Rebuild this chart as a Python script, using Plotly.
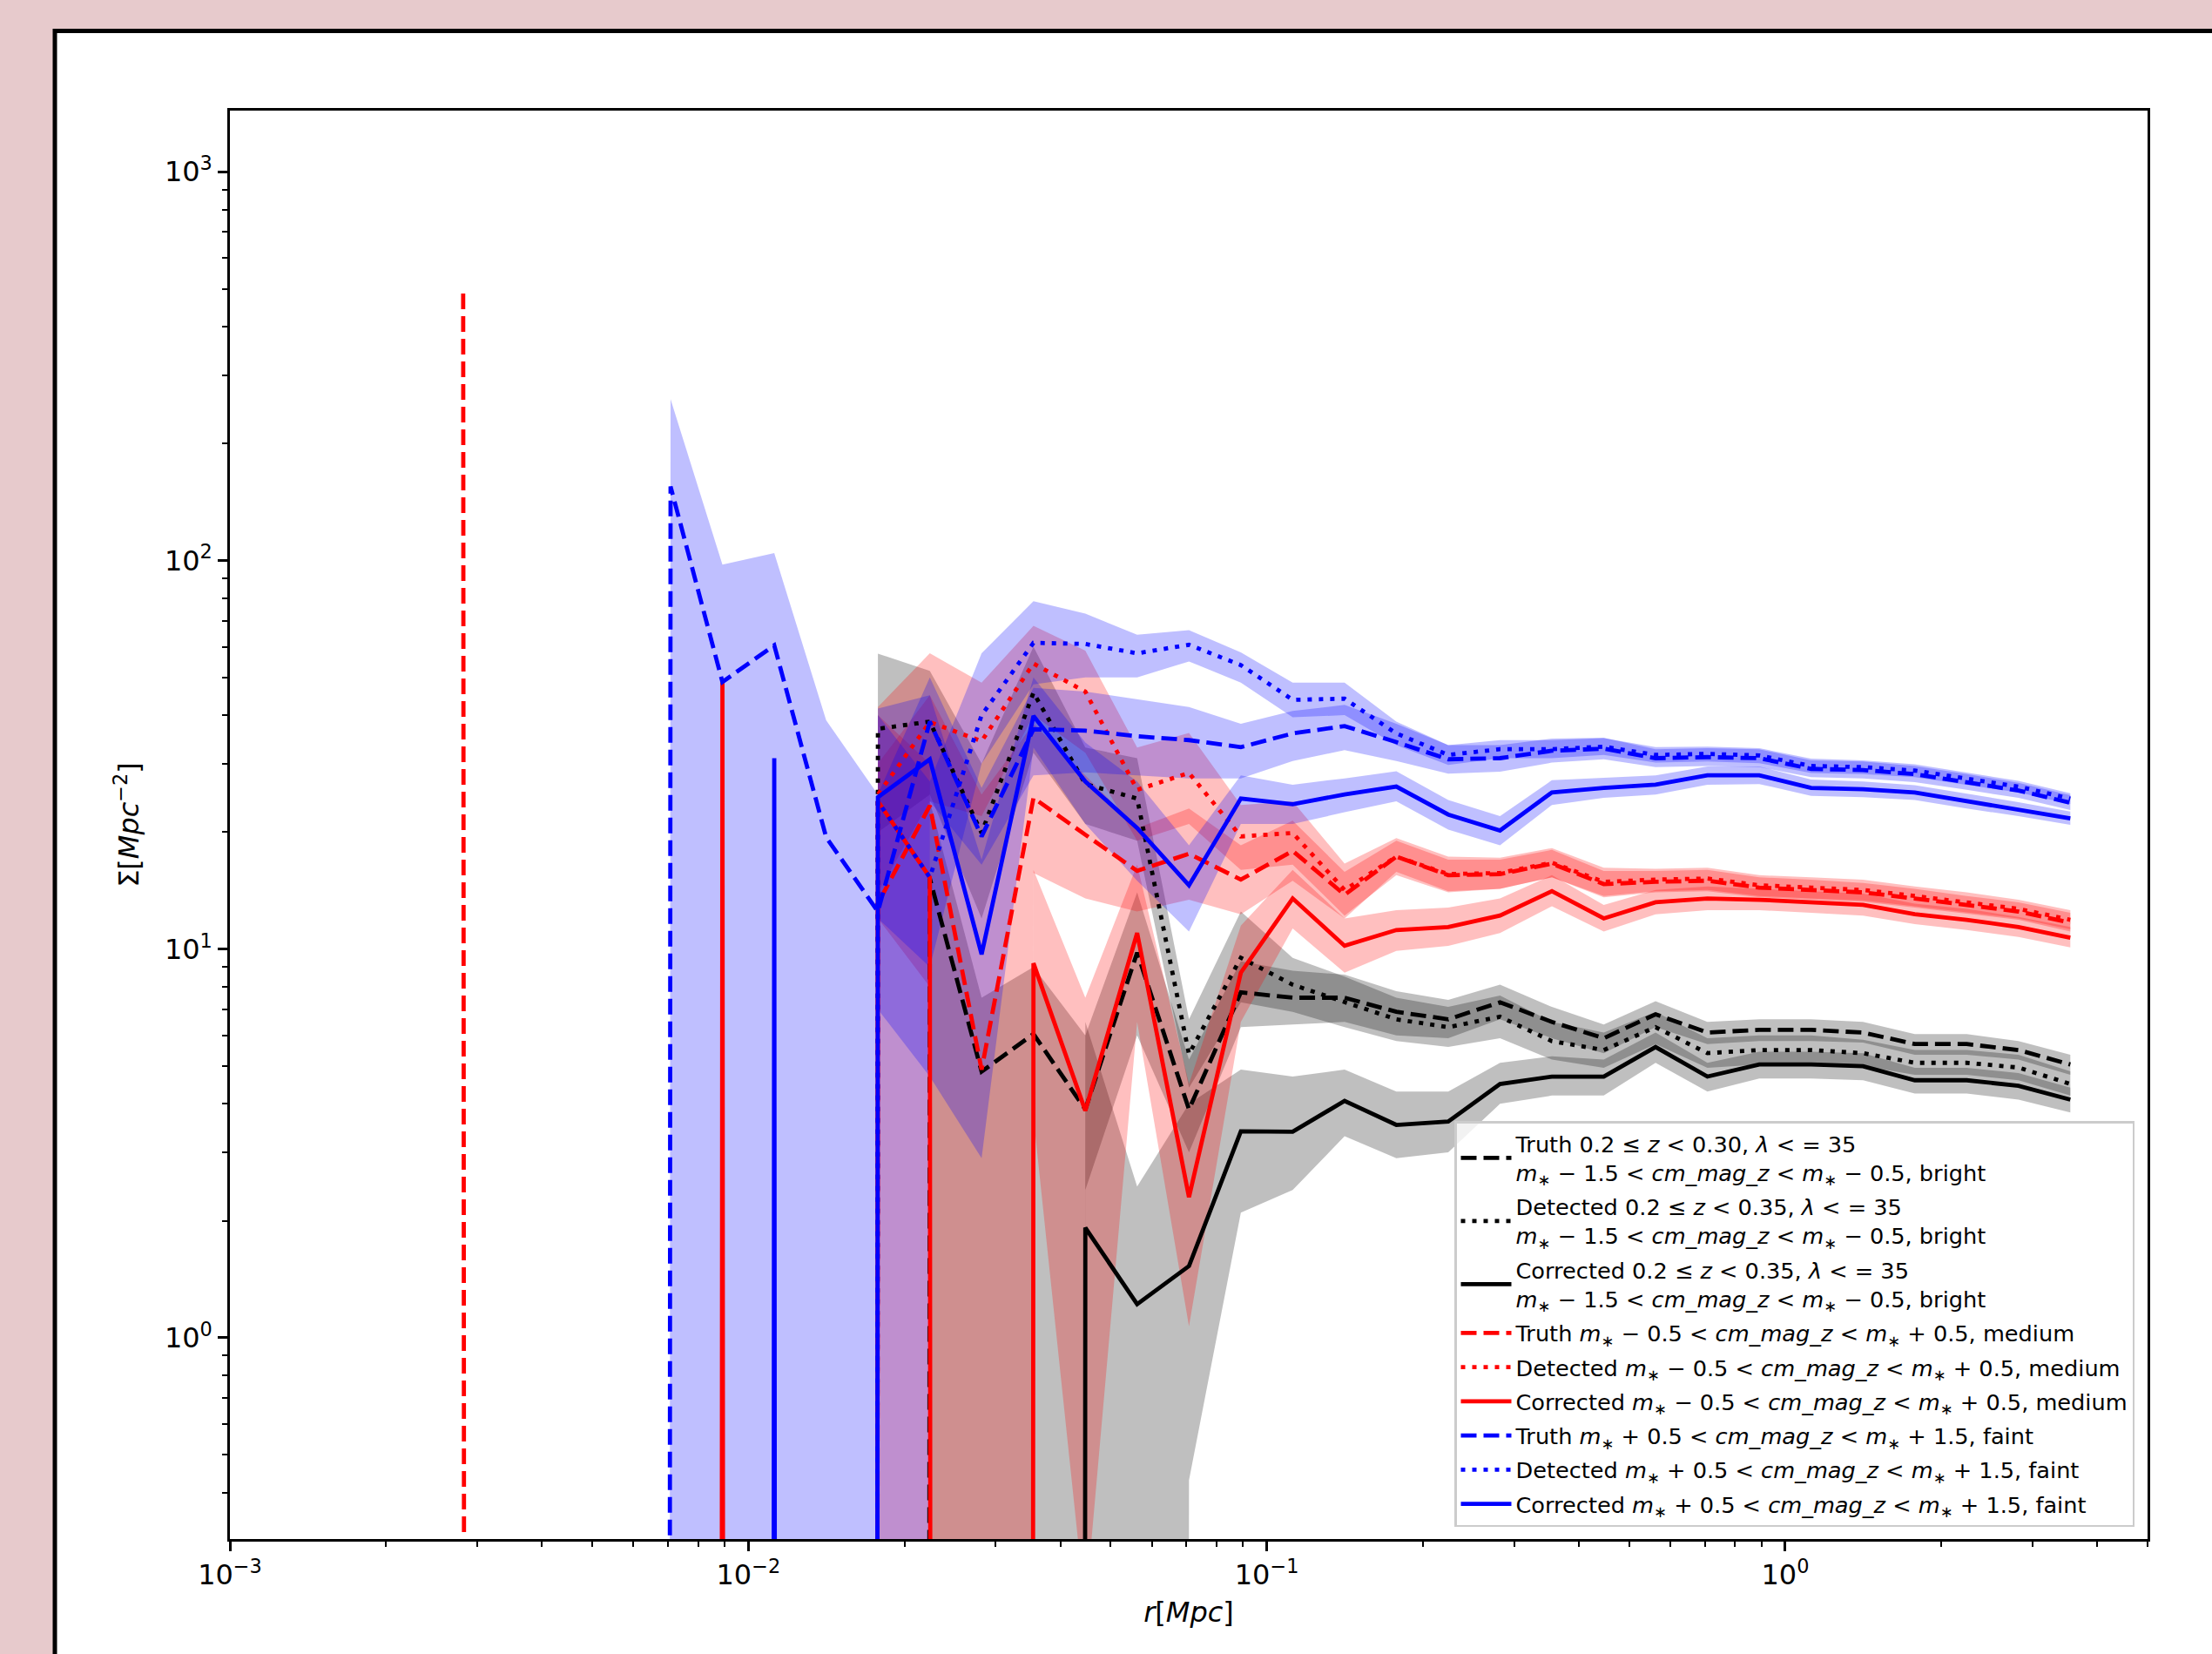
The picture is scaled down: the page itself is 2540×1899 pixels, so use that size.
import plotly.graph_objects as go
import math

# ---------------- data ----------------
# radial bin centres r [Mpc]
r = [0.002818, 0.003548, 0.004467, 0.005623, 0.007079, 0.008913, 0.01122, 0.01413,
     0.01778, 0.02239, 0.02818, 0.03548, 0.04467, 0.05623, 0.07079, 0.08913,
     0.1122, 0.1413, 0.1778, 0.2239, 0.2818, 0.3548, 0.4467, 0.5623,
     0.7079, 0.8913, 1.122, 1.413, 1.778, 2.239, 2.818, 3.548]

# bright: Truth (dashed), Detected (dotted), Corrected (solid)
truth_bright = [0, 0, 0, 0, 0, 0, 0, 0, 0, 15.2, 4.84, 6.05, 3.87, 9.8, 3.87, 7.74,
                7.5, 7.5, 6.9, 6.6, 7.3, 6.5, 5.9, 6.8, 6.1, 6.2, 6.2, 6.1, 5.7, 5.7, 5.5, 5.05]
truth_bright_lo = [0, 0, 0, 0, 0, 0, 0, 0, 0, 0, 0, 0, 2.4, 6.0, 3.0, 6.3,
                   6.4, 6.5, 6.0, 5.9, 6.6, 5.9, 5.4, 6.3, 5.7, 5.8, 5.8, 5.75, 5.35, 5.35, 5.2, 4.75]
truth_bright_hi = [0, 0, 0, 0, 0, 0, 0, 0, 0, 24, 7.5, 9.0, 6.0, 14, 5.2, 9.3,
                   8.8, 8.6, 7.8, 7.4, 8.1, 7.1, 6.4, 7.35, 6.5, 6.6, 6.6, 6.5, 6.05, 6.05, 5.8, 5.35]

detected_bright = [0, 0, 0, 0, 0, 0, 0, 0, 36.9, 38.5, 19.9, 45.7, 26.6, 24.4, 5.37, 9.5,
                   8.1, 7.3, 6.6, 6.3, 6.7, 5.8, 5.5, 6.3, 5.4, 5.5, 5.5, 5.4, 5.1, 5.1, 4.96, 4.5]
detected_bright_lo = [0, 0, 0, 0, 0, 0, 0, 0, 20, 25, 12, 32, 21, 19, 4.4, 7.3,
                      6.9, 6.3, 5.8, 5.6, 5.9, 5.2, 4.95, 5.7, 4.95, 5.05, 5.05, 5.0, 4.75, 4.75, 4.6, 4.2]
detected_bright_hi = [0, 0, 0, 0, 0, 0, 0, 0, 57.6, 52, 30, 60, 33, 31, 6.6, 12.5,
                      9.5, 8.5, 7.5, 7.1, 7.6, 6.5, 6.1, 6.9, 5.9, 6.0, 6.0, 5.85, 5.5, 5.5, 5.35, 4.85]

corrected_bright = [0, 0, 0, 0, 0, 0, 0, 0, 0, 0, 0, 0, 1.92, 1.22, 1.53, 3.40,
                    3.39, 4.07, 3.53, 3.6, 4.5, 4.7, 4.7, 5.6, 4.7, 5.05, 5.05, 5.0, 4.6, 4.6, 4.45, 4.1]
corrected_bright_lo = [0, 0, 0, 0, 0, 0, 0, 0, 0, 0, 0, 0, 0, 0, 0.43, 2.1,
                       2.4, 3.3, 2.9, 3.0, 4.0, 4.2, 4.2, 5.1, 4.3, 4.65, 4.65, 4.6, 4.25, 4.25, 4.1, 3.8]
corrected_bright_hi = [0, 0, 0, 0, 0, 0, 0, 0, 0, 0, 0, 0, 6.5, 2.45, 4.0, 4.9,
                       4.7, 4.9, 4.3, 4.3, 5.1, 5.3, 5.2, 6.1, 5.1, 5.45, 5.45, 5.4, 4.95, 4.95, 4.8, 4.4]

# medium
truth_medium = [486, 0, 0, 0, 0, 0, 0, 0, 13.1, 23.4, 4.9, 24.5, 19.7, 15.9, 17.6, 15.1,
                17.9, 13.8, 17.3, 15.5, 15.6, 16.6, 14.7, 14.9, 15.0, 14.4, 14.2, 14.0, 13.5, 13.0, 12.5, 11.7]
truth_medium_lo = [486, 0, 0, 0, 0, 0, 0, 0, 0, 0, 0, 15.7, 13.5, 12.5, 13.4, 12.3,
                   15.0, 12.0, 15.8, 14.1, 14.3, 15.3, 13.6, 14.0, 14.1, 13.6, 13.4, 13.25, 12.8, 12.35, 11.9, 11.1]
truth_medium_hi = [486, 0, 0, 0, 0, 0, 0, 0, 30, 45, 25, 38, 28, 20.5, 23, 18.5,
                   21.4, 15.8, 19.0, 17.0, 17.0, 18.0, 15.9, 15.9, 16.0, 15.3, 15.1, 14.8, 14.3, 13.7, 13.2, 12.4]

detected_medium = [0, 0, 0, 0, 0, 0, 0, 0, 25, 38.4, 34.3, 54.3, 46, 25.7, 28.4, 19.5,
                   19.9, 14.2, 17.3, 15.6, 15.7, 16.7, 14.9, 15.1, 15.2, 14.6, 14.4, 14.2, 13.7, 13.2, 12.7, 11.9]
detected_medium_lo = [0, 0, 0, 0, 0, 0, 0, 0, 14, 24, 22, 40, 32, 19, 21, 16,
                      16.5, 12.2, 15.5, 14.0, 14.3, 15.3, 13.7, 14.1, 14.2, 13.7, 13.5, 13.35, 12.9, 12.45, 12.0, 11.25]
detected_medium_hi = [0, 0, 0, 0, 0, 0, 0, 0, 42, 57.7, 48.5, 67.9, 58.6, 33, 36, 23.5,
                      24, 16.6, 19.3, 17.3, 17.2, 18.2, 16.2, 16.1, 16.2, 15.5, 15.3, 15.1, 14.5, 14.0, 13.4, 12.6]

corrected_medium = [0, 0, 0, 0, 0, 48.6, 0, 0, 24, 15.3, 0, 9.2, 3.84, 11.0, 2.30, 8.7,
                    13.5, 10.2, 11.2, 11.4, 12.2, 14.1, 12.0, 13.2, 13.5, 13.4, 13.2, 13.0, 12.3, 11.9, 11.4, 10.7]
corrected_medium_lo = [0, 0, 0, 0, 0, 0, 0, 0, 12, 8, 0, 3.7, 0.2, 6.5, 1.07, 6.5,
                       11.3, 8.7, 9.9, 10.2, 11.0, 12.9, 11.1, 12.3, 12.6, 12.6, 12.4, 12.2, 11.6, 11.2, 10.75, 10.1]
corrected_medium_hi = [0, 0, 0, 0, 0, 48.6, 0, 0, 40, 30, 0, 16, 7.5, 16.5, 4.5, 11.5,
                       16.0, 12.0, 12.6, 12.8, 13.5, 15.5, 13.0, 14.2, 14.5, 14.3, 14.1, 13.9, 13.1, 12.7, 12.1, 11.4]

# faint
truth_faint = [0, 0, 0, 0, 155, 48.7, 60.5, 19.4, 12.5, 38.5, 19.5, 36.8, 36.5, 35.3, 34.5, 33.1,
               35.9, 37.5, 34.1, 30.8, 31.0, 32.4, 32.8, 31.0, 31.2, 31.0, 29.1, 28.9, 28.2, 26.9, 25.6, 23.8]
truth_faint_lo = [0, 0, 0, 0, 0, 0, 0, 0, 0, 24, 16.5, 28, 28.5, 28, 27.5, 27.5,
                  30.5, 32.5, 30.5, 28.3, 28.6, 30.2, 30.8, 29.4, 29.6, 29.4, 27.7, 27.5, 26.9, 25.7, 24.5, 22.8]
truth_faint_hi = [0, 0, 0, 0, 260, 97.6, 104.5, 38.8, 25, 50, 26, 47, 46, 44, 42, 38,
                  41, 42.5, 38, 33.5, 33.5, 34.8, 35.0, 32.7, 32.9, 32.7, 30.6, 30.4, 29.6, 28.2, 26.8, 24.9]

detected_faint = [0, 0, 0, 0, 0, 0, 0, 0, 24, 15.3, 40, 61.4, 61, 57.7, 60.7, 53.8,
                  43.8, 44.1, 35.9, 31.6, 32.7, 32.7, 33.2, 31.6, 31.8, 31.5, 29.6, 29.4, 28.8, 27.5, 26.2, 24.4]
detected_faint_lo = [0, 0, 0, 0, 0, 0, 0, 0, 12, 9, 30, 48, 50, 50, 55, 48.5,
                     39.5, 40, 33.5, 29.8, 31.0, 31.0, 31.6, 30.2, 30.4, 30.1, 28.4, 28.2, 27.7, 26.5, 25.3, 23.6]
detected_faint_hi = [0, 0, 0, 0, 0, 0, 0, 0, 40, 27, 57.7, 78.6, 73, 64.4, 66.2, 58,
                     48.5, 48.5, 38.5, 33.5, 34.5, 34.5, 34.9, 33.1, 33.2, 32.9, 30.9, 30.6, 29.9, 28.5, 27.1, 25.2]

corrected_faint = [0, 0, 0, 0, 0, 0, 31, 0, 24.6, 30.8, 9.7, 39.8, 27, 20.5, 14.6, 24.4,
                   23.6, 25.0, 26.2, 22.2, 20.2, 25.3, 26.0, 26.5, 28.0, 28.0, 26.0, 25.8, 25.3, 24.0, 22.9, 21.7]
corrected_faint_lo = [0, 0, 0, 0, 0, 0, 0, 0, 7, 4.7, 2.9, 33, 21, 15, 11.1, 21,
                      21, 22.5, 24, 20.3, 18.5, 23.5, 24.5, 25.0, 26.5, 26.6, 24.8, 24.6, 24.2, 23.0, 22.0, 20.9]
corrected_faint_hi = [0, 0, 0, 0, 0, 0, 31, 0, 41.6, 45, 17, 50, 34, 27, 18.5, 28,
                      26.5, 27.5, 28.7, 24.2, 22, 27.2, 27.6, 28.0, 29.5, 29.5, 27.3, 27.0, 26.4, 25.1, 23.9, 22.6]

legend_names = [
    "Truth 0.2 ≤ <i>z</i> &lt; 0.30, <i>λ</i> &lt; = 35<br><i>m</i><sub>∗</sub> − 1.5 &lt; <i>cm_mag_z</i> &lt; <i>m</i><sub>∗</sub> − 0.5, bright",
    "Detected 0.2 ≤ <i>z</i> &lt; 0.35, <i>λ</i> &lt; = 35<br><i>m</i><sub>∗</sub> − 1.5 &lt; <i>cm_mag_z</i> &lt; <i>m</i><sub>∗</sub> − 0.5, bright",
    "Corrected 0.2 ≤ <i>z</i> &lt; 0.35, <i>λ</i> &lt; = 35<br><i>m</i><sub>∗</sub> − 1.5 &lt; <i>cm_mag_z</i> &lt; <i>m</i><sub>∗</sub> − 0.5, bright",
    "Truth <i>m</i><sub>∗</sub> − 0.5 &lt; <i>cm_mag_z</i> &lt; <i>m</i><sub>∗</sub> + 0.5, medium",
    "Detected <i>m</i><sub>∗</sub> − 0.5 &lt; <i>cm_mag_z</i> &lt; <i>m</i><sub>∗</sub> + 0.5, medium",
    "Corrected <i>m</i><sub>∗</sub> − 0.5 &lt; <i>cm_mag_z</i> &lt; <i>m</i><sub>∗</sub> + 0.5, medium",
    "Truth <i>m</i><sub>∗</sub> + 0.5 &lt; <i>cm_mag_z</i> &lt; <i>m</i><sub>∗</sub> + 1.5, faint",
    "Detected <i>m</i><sub>∗</sub> + 0.5 &lt; <i>cm_mag_z</i> &lt; <i>m</i><sub>∗</sub> + 1.5, faint",
    "Corrected <i>m</i><sub>∗</sub> + 0.5 &lt; <i>cm_mag_z</i> &lt; <i>m</i><sub>∗</sub> + 1.5, faint",
]

x_tick_vals = [0.001, 0.01, 0.1, 1]
x_tick_text = ["10<sup>−3</sup>", "10<sup>−2</sup>", "10<sup>−1</sup>", "10<sup>0</sup>"]
y_tick_vals = [1, 10, 100, 1000]
y_tick_text = ["10<sup>0</sup>", "10<sup>1</sup>", "10<sup>2</sup>", "10<sup>3</sup>"]

# ---------------- figure ----------------
W, H = 2540, 1899
L, R, T, B = 264, 2466, 127, 1767
FONT = "DejaVu Sans"

series = [
    (truth_bright, truth_bright_lo, truth_bright_hi, "#000000", "rgba(0,0,0,0.25)", "18px,8px"),
    (detected_bright, detected_bright_lo, detected_bright_hi, "#000000", "rgba(0,0,0,0.25)", "5px,8px"),
    (corrected_bright, corrected_bright_lo, corrected_bright_hi, "#000000", "rgba(0,0,0,0.25)", "solid"),
    (truth_medium, truth_medium_lo, truth_medium_hi, "#ff0000", "rgba(255,0,0,0.25)", "18px,8px"),
    (detected_medium, detected_medium_lo, detected_medium_hi, "#ff0000", "rgba(255,0,0,0.25)", "5px,8px"),
    (corrected_medium, corrected_medium_lo, corrected_medium_hi, "#ff0000", "rgba(255,0,0,0.25)", "solid"),
    (truth_faint, truth_faint_lo, truth_faint_hi, "#0000ff", "rgba(0,0,255,0.25)", "18px,8px"),
    (detected_faint, detected_faint_lo, detected_faint_hi, "#0000ff", "rgba(0,0,255,0.25)", "5px,8px"),
    (corrected_faint, corrected_faint_lo, corrected_faint_hi, "#0000ff", "rgba(0,0,255,0.25)", "solid"),
]

TINY = 1e-200  # non-positive values fall off the bottom of the log axis (matplotlib 'clip')


def clip(v):
    return [a if a > 0 else TINY for a in v]


fig = go.Figure()

# shaded uncertainty bands
for vals, lo, hi, col, fcol, dash in series:
    fig.add_trace(go.Scatter(x=r, y=clip(lo), mode="lines", line=dict(width=0, color=fcol),
                             showlegend=False, hoverinfo="skip"))
    fig.add_trace(go.Scatter(x=r, y=clip(hi), mode="lines", line=dict(width=0, color=fcol),
                             fill="tonexty", fillcolor=fcol, showlegend=False, hoverinfo="skip"))

# profile lines
for i, ((vals, lo, hi, col, fcol, dash), name) in enumerate(zip(series, legend_names)):
    fig.add_trace(go.Scatter(x=r, y=clip(vals), mode="lines", name=name, legendgroup="g%d" % i,
                             line=dict(color=col, width=4.8, dash=dash)))

minor_x = [2e-3, 3e-3, 4e-3, 5e-3, 6e-3, 7e-3, 8e-3, 9e-3,
           2e-2, 3e-2, 4e-2, 5e-2, 6e-2, 7e-2, 8e-2, 9e-2,
           0.2, 0.3, 0.4, 0.5, 0.6, 0.7, 0.8, 0.9, 2, 3, 4, 5]
minor_y = [0.4, 0.5, 0.6, 0.7, 0.8, 0.9, 2, 3, 4, 5, 6, 7, 8, 9,
           20, 30, 40, 50, 60, 70, 80, 90, 200, 300, 400, 500, 600, 700, 800, 900]

pw, ph = R - L, B - T


def px(xp):
    return (xp - L) / pw


def py(yp):
    return (B - yp) / ph


fig.update_layout(
    width=W, height=H, autosize=False,
    margin=dict(l=L, r=W - R, t=T, b=H - B, pad=0),
    paper_bgcolor="#e7cacc", plot_bgcolor="white",
    font=dict(family=FONT, color="black", size=32),
    showlegend=True,
    legend=dict(x=px(2451), y=py(1753), xanchor="right", yanchor="bottom",
                bgcolor="rgba(255,255,255,0.8)", bordercolor="#cccccc", borderwidth=2.5,
                font=dict(family=FONT, size=25.6, color="black"),
                traceorder="grouped", tracegroupgap=3, itemwidth=58),
    shapes=[dict(type="rect", xref="paper", yref="paper", layer="below",
                 x0=px(63), x1=px(2700), y0=py(2100), y1=py(35.5),
                 line=dict(color="black", width=5), fillcolor="white")],
)

fig.update_xaxes(
    type="log", range=[-3, math.log10(5.0)],
    showline=True, linecolor="black", linewidth=2.5, mirror=True,
    showgrid=False, zeroline=False,
    ticks="outside", ticklen=11, tickwidth=2.5, tickcolor="black",
    tickvals=x_tick_vals, ticktext=x_tick_text, tickfont=dict(size=32, family=FONT),
    minor=dict(tickvals=minor_x, ticks="outside", ticklen=6, tickwidth=1.9, tickcolor="black", showgrid=False),
    title=dict(text="<i>r</i>[<i>Mpc</i>]", font=dict(size=32, family=FONT), standoff=14),
)
fig.update_yaxes(
    type="log", range=[math.log10(0.3036), 3.1575],
    showline=True, linecolor="black", linewidth=2.5, mirror=True,
    showgrid=False, zeroline=False,
    ticks="outside", ticklen=11, tickwidth=2.5, tickcolor="black",
    tickvals=y_tick_vals, ticktext=y_tick_text, tickfont=dict(size=32, family=FONT),
    minor=dict(tickvals=minor_y, ticks="outside", ticklen=6, tickwidth=1.9, tickcolor="black", showgrid=False),
    title=dict(text="Σ[<i>Mpc</i><sup>−2</sup>]", font=dict(size=32, family=FONT), standoff=20),
)

fig.write_html("out.html", config={"displayModeBar": False},
               post_script="document.body.style.margin='0';document.body.style.overflow='hidden';")
